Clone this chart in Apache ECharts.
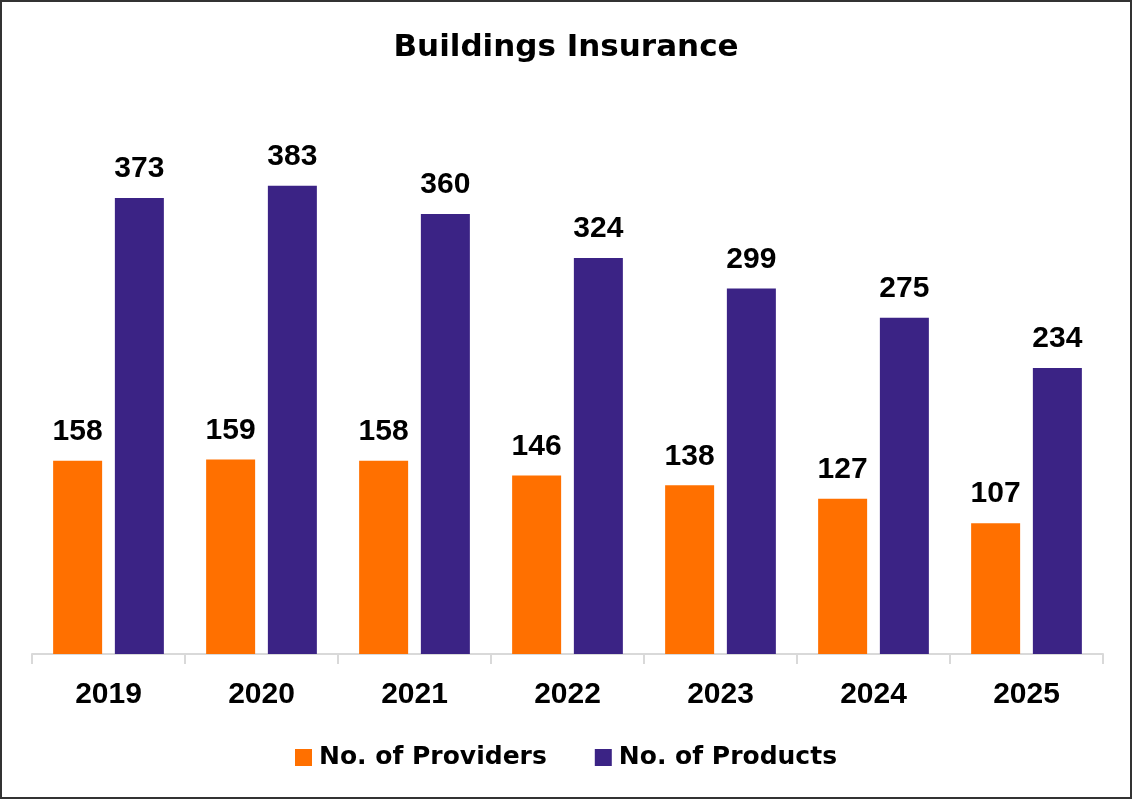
<!DOCTYPE html>
<html>
<head>
<meta charset="utf-8">
<script src="https://cdn.jsdelivr.net/npm/echarts@6/dist/echarts.min.js"></script>
<style>
html,body{margin:0;padding:0;background:#fff;}
#c{width:1132px;height:799px;box-sizing:border-box;border:2px solid #333;}
</style>
</head>
<body>
<div id="c"></div>
<script>
const categories = ['2019','2020','2021','2022','2023','2024','2025'];
const providers = [158,159,158,146,138,127,107];
const products = [373,383,360,324,299,275,234];
const seriesNames = ['No. of Providers','No. of Products'];

const chart = echarts.init(document.getElementById('c'));
const labelStyle = {show:true, position:'top', distance:14, color:'#000', fontFamily:'Liberation Sans, Arial, sans-serif', fontWeight:'bold', fontSize:30};
chart.setOption({
  animation:false,
  title:{text:'Buildings Insurance', left:'center', top:25,
    textStyle:{fontFamily:'DejaVu Sans, sans-serif', fontWeight:'bold', fontSize:31, color:'#000'}},
  legend:{bottom:22, left:'center', itemWidth:17, itemHeight:17, itemGap:48, icon:'rect',
    textStyle:{fontFamily:'DejaVu Sans, sans-serif', fontWeight:'bold', fontSize:25, color:'#000', padding:[0,0,0,2]}},
  grid:{left:30, right:27, top:163, bottom:143},
  xAxis:{type:'category', data:categories,
    axisLine:{lineStyle:{color:'#d9d9d9', width:2}},
    axisTick:{show:true, length:10, lineStyle:{color:'#d9d9d9', width:2}},
    axisLabel:{margin:26, color:'#000', fontFamily:'Liberation Sans, Arial, sans-serif', fontWeight:'bold', fontSize:30}},
  yAxis:{type:'value', min:0, max:400, show:false},
  series:[
    {name:seriesNames[0], type:'bar', data:providers, barWidth:49, barGap:'26%', itemStyle:{color:'#FF7000'}, label:labelStyle},
    {name:seriesNames[1], type:'bar', data:products, barWidth:49, barGap:'26%', itemStyle:{color:'#3B2385'}, label:labelStyle}
  ]
});
</script>
</body>
</html>
